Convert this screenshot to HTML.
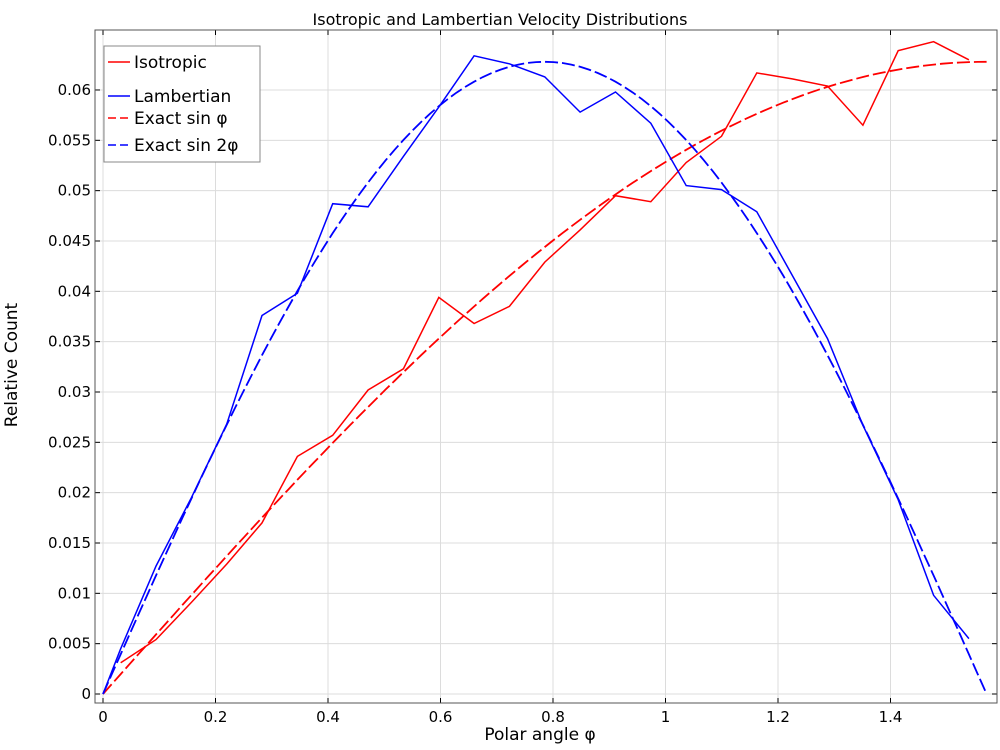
<!DOCTYPE html>
<html><head><meta charset="utf-8"><style>
body{margin:0;background:#fff;}
svg{display:block;font-family:"DejaVu Sans","Liberation Sans",sans-serif;}
</style></head><body>
<svg id="chart" width="1000" height="750">
<text x="500" y="25" text-anchor="middle" font-size="16">Isotropic and Lambertian Velocity Distributions</text>
<g id="grid"></g>
<g id="axes"></g>
<g id="series"></g>
<text x="540" y="740" text-anchor="middle" font-size="17">Polar angle φ</text>
<text transform="translate(17,365) rotate(-90)" text-anchor="middle" font-size="17">Relative Count</text>
<g>
<rect x="104" y="46" width="156" height="116" fill="#fff" stroke="#888" stroke-width="1"/>
<line x1="108" y1="62" x2="130" y2="62" stroke="#f00" stroke-width="1.6"/>
<text x="134" y="68" font-size="17">Isotropic</text>
<line x1="108" y1="96" x2="130" y2="96" stroke="#00f" stroke-width="1.6"/>
<text x="134" y="102" font-size="17">Lambertian</text>
<line x1="108" y1="118" x2="130" y2="118" stroke="#f00" stroke-width="1.6" stroke-dasharray="8,4"/>
<text x="134" y="124" font-size="17">Exact sin φ</text>
<line x1="108" y1="145" x2="130" y2="145" stroke="#00f" stroke-width="1.6" stroke-dasharray="8,4"/>
<text x="134" y="151" font-size="17">Exact sin 2φ</text>
</g>
</svg>
<script>
const xTicks=[0,0.2,0.4,0.6,0.8,1,1.2,1.4];
const xTickLabels=["0","0.2","0.4","0.6","0.8","1","1.2","1.4"];
const yTicks=[0,0.005,0.01,0.015,0.02,0.025,0.03,0.035,0.04,0.045,0.05,0.055,0.06];
const yTickLabels=["0","0.005","0.01","0.015","0.02","0.025","0.03","0.035","0.04","0.045","0.05","0.055","0.06"];
const binCount=25;
const isotropic=[0.0031,0.0054,0.0091,0.0129,0.0170,0.0236,0.0257,0.0302,0.0323,0.0394,0.0368,0.0385,0.0429,0.0461,0.0495,0.0489,0.0528,0.0554,0.0617,0.0611,0.0604,0.0565,0.0639,0.0648,0.0630];
const lambertian=[0.0045,0.0127,0.0195,0.0268,0.0376,0.0398,0.0487,0.0484,0.0534,0.0583,0.0634,0.0626,0.0613,0.0578,0.0598,0.0567,0.0505,0.0501,0.0479,0.0416,0.0353,0.0267,0.0193,0.0098,0.0055];
const exactAmplitude=[0.0628];
const NS="http://www.w3.org/2000/svg";
const L=95,R=997,T=30,B=703;
const X=v=>103+v*562.5;
const Y=v=>694-v*10067;
function mk(tag,attrs,parent){const e=document.createElementNS(NS,tag);for(const k in attrs)e.setAttribute(k,attrs[k]);parent.appendChild(e);return e;}
const grid=document.getElementById('grid'),axes=document.getElementById('axes'),ser=document.getElementById('series');
xTicks.forEach((t,i)=>{
 const g=mk('line',{x1:X(t),x2:X(t),y1:T,y2:B,stroke:'#dcdcdc','stroke-width':1},grid);
 
 
 mk('line',{x1:X(t),x2:X(t),y1:B,y2:B-5,stroke:'#000'},axes);
 mk('line',{x1:X(t),x2:X(t),y1:T,y2:T+5,stroke:'#000'},axes);
 const tx=mk('text',{x:X(t),y:722,'text-anchor':'middle','font-size':15},axes);
 tx.textContent=xTickLabels[i];
 
 
});
yTicks.forEach((t,i)=>{
 const g=mk('line',{x1:L,x2:R,y1:Y(t),y2:Y(t),stroke:'#dcdcdc','stroke-width':1},grid);
 
 
 mk('line',{x1:L,x2:L+5,y1:Y(t),y2:Y(t),stroke:'#000'},axes);
 mk('line',{x1:R,x2:R-5,y1:Y(t),y2:Y(t),stroke:'#000'},axes);
 const tx=mk('text',{x:91,y:Y(t)+5,'text-anchor':'end','font-size':15},axes);
 tx.textContent=yTickLabels[i];
 
 
});
const fr=mk('rect',{x:L,y:T,width:R-L,height:B-T,fill:'none',stroke:'#555','stroke-width':1},axes);


const w=Math.PI/2/binCount;
function pts(arr){return arr.map((v,i)=>X((i+0.5)*w).toFixed(1)+','+Y(v).toFixed(1)).join(' ');}
function exact(f){const p=[];for(let i=0;i<=100;i++){const x=i/100*Math.PI/2;p.push(X(x).toFixed(1)+','+Y(exactAmplitude[0]*f(x)).toFixed(1));}return p.join(' ');}
const e1=mk('polyline',{points:exact(Math.sin),fill:'none',stroke:'#f00','stroke-width':1.8,'stroke-dasharray':'13,4'},ser);


const e2=mk('polyline',{points:exact(x=>Math.sin(2*x)),fill:'none',stroke:'#00f','stroke-width':1.8,'stroke-dasharray':'13,4'},ser);


const s1=mk('polyline',{points:pts(isotropic),fill:'none',stroke:'#f00','stroke-width':1.5},ser);


const s2=mk('polyline',{points:X(0)+','+Y(0)+' '+pts(lambertian),fill:'none',stroke:'#00f','stroke-width':1.5},ser);


</script>
</body></html>
